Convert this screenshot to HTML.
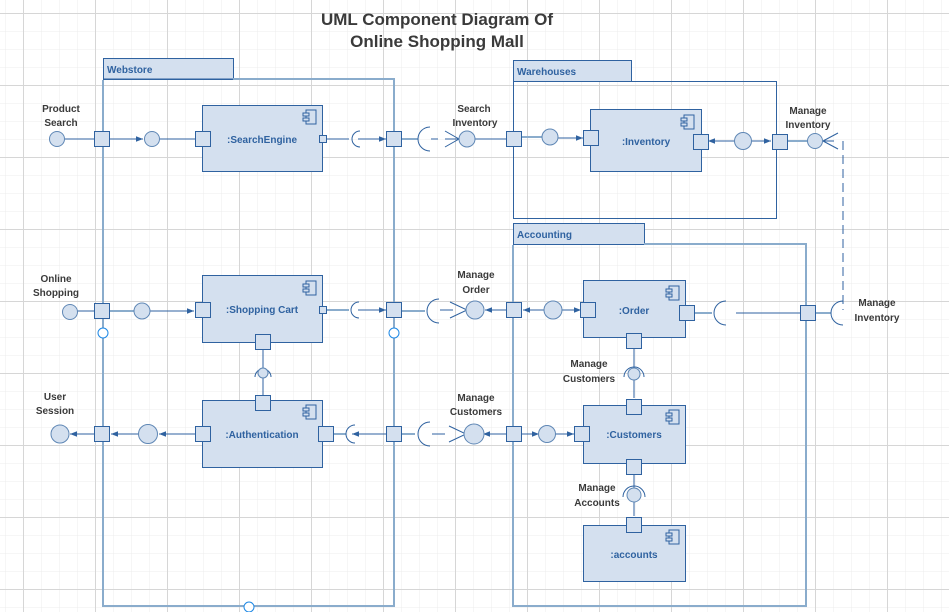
<!DOCTYPE html>
<html><head><meta charset="utf-8"><style>
html,body{margin:0;padding:0;background:#fff;}
svg{display:block;}
text{font-family:"Liberation Sans",sans-serif;font-weight:bold;}
</style></head><body>
<svg width="949" height="612" viewBox="0 0 949 612" xmlns="http://www.w3.org/2000/svg">
<defs>
<pattern id="g1" x="5" y="13" width="18" height="18" patternUnits="userSpaceOnUse"><path d="M0 0H18M0 0V18" stroke="#ececec" stroke-width="1" fill="none"/></pattern>
<pattern id="g2" x="23" y="13" width="72" height="72" patternUnits="userSpaceOnUse"><path d="M0 0.5H72M0.5 0V72" stroke="#d6d6d6" stroke-width="1" fill="none"/></pattern>
<marker id="ar" viewBox="0 0 10 10" refX="10" refY="5" markerWidth="7" markerHeight="7" orient="auto"><path d="M0 1L10 5L0 9z" fill="#2f62a0"/></marker>
<g id="ic"><rect x="3" y="0" width="10" height="14" fill="#d4e0ef" stroke="#2f62a0"/><rect x="0" y="3" width="6" height="3" fill="#d4e0ef" stroke="#2f62a0"/><rect x="0" y="8" width="6" height="3" fill="#d4e0ef" stroke="#2f62a0"/></g>
</defs>
<rect width="949" height="612" fill="url(#g1)"/>
<rect width="949" height="612" fill="url(#g2)"/>

<!-- title -->
<text x="437" y="25" font-size="17" fill="#3a3a3a" text-anchor="middle">UML Component Diagram Of</text>
<text x="437" y="47" font-size="17" fill="#3a3a3a" text-anchor="middle">Online Shopping Mall</text>

<!-- Webstore -->
<rect x="103.5" y="58.5" width="130" height="21" fill="#d4e0ef" stroke="#2f62a0"/>
<text x="107" y="73" font-size="10" fill="#2f62a0">Webstore</text>
<path d="M103 80V606H394V79H233" fill="none" stroke="#8aaccc" stroke-width="2"/>
<path d="M103 79H233" stroke="#2f62a0"/>

<!-- Warehouses -->
<rect x="513.5" y="60.5" width="118" height="21" fill="#d4e0ef" stroke="#2f62a0"/>
<text x="517" y="75" font-size="10" fill="#2f62a0">Warehouses</text>
<path d="M513.5 81.5V218.5H776.5V81.5H631" fill="none" stroke="#2f62a0"/>

<!-- Accounting -->
<rect x="513.5" y="223.5" width="131" height="21" fill="#d4e0ef" stroke="#2f62a0"/>
<text x="517" y="238" font-size="10" fill="#2f62a0">Accounting</text>
<path d="M513 245V606H806V244H644" fill="none" stroke="#8aaccc" stroke-width="2"/>

<g fill="#d4e0ef" stroke="#2f62a0" stroke-width="1">
<!-- component boxes -->
<rect x="202.5" y="105.5" width="120" height="66"/>
<rect x="202.5" y="275.5" width="120" height="67"/>
<rect x="202.5" y="400.5" width="120" height="67"/>
<rect x="590.5" y="109.5" width="111" height="62"/>
<rect x="583.5" y="280.5" width="102" height="57"/>
<rect x="583.5" y="405.5" width="102" height="58"/>
<rect x="583.5" y="525.5" width="102" height="56"/>
</g>
<use href="#ic" x="303" y="110"/>
<use href="#ic" x="303" y="281"/>
<use href="#ic" x="303" y="405"/>
<use href="#ic" x="681" y="115"/>
<use href="#ic" x="666" y="286"/>
<use href="#ic" x="666" y="410"/>
<use href="#ic" x="666" y="530"/>
<g font-size="10" fill="#2f62a0" text-anchor="middle">
<text x="262" y="143">:SearchEngine</text>
<text x="262" y="313">:Shopping Cart</text>
<text x="262" y="438">:Authentication</text>
<text x="646" y="145">:Inventory</text>
<text x="634" y="314">:Order</text>
<text x="634" y="438">:Customers</text>
<text x="634" y="558">:accounts</text>
</g>

<!-- connectors -->
<g stroke="#2f62a0" stroke-width="1" fill="none">
<!-- row 1 -->
<path d="M65 139H94"/>
<path d="M109 139H143" marker-end="url(#ar)"/>
<path d="M160 139H195"/>
<path d="M326 139H349"/>
<path d="M358 139H386" marker-end="url(#ar)"/>
<path d="M360 131A8 8 0 0 0 360 147"/>
<path d="M401 139H418" stroke="#8aaccc" stroke-width="2"/>
<path d="M430 127A12 12 0 0 0 430 151"/>
<path d="M431 139H438"/>
<path d="M445 131L459 139L445 147M459 139H445"/>
<path d="M475 139H506"/>
<path d="M522 137H542" stroke="#8aaccc" stroke-width="2"/>
<path d="M558 138H583" marker-end="url(#ar)"/>
<path d="M735 141H708" marker-end="url(#ar)"/>
<path d="M751 141H771" marker-end="url(#ar)"/>
<path d="M787 141H807" stroke="#8aaccc" stroke-width="2"/>
<path d="M823 141L838 133M823 141L838 149M823 141H834"/>
<path d="M843 141V310" stroke-dasharray="9 5"/>
<!-- row 2 -->
<path d="M77 311H94"/>
<path d="M109 311H134" stroke="#8aaccc" stroke-width="2"/>
<path d="M150 311H194" marker-end="url(#ar)"/>
<path d="M326 310H349" stroke="#8aaccc" stroke-width="2"/>
<path d="M359 302A8 8 0 0 0 359 318"/>
<path d="M358 310H386" marker-end="url(#ar)"/>
<path d="M401 311H425" stroke="#8aaccc" stroke-width="2"/>
<path d="M439 299A12 12 0 0 0 439 323"/>
<path d="M440 310H453"/>
<path d="M450 302L467 310L450 318"/>
<path d="M506 310H485" marker-end="url(#ar)"/>
<path d="M545 310H523" marker-end="url(#ar)"/>
<path d="M561 310H581" marker-end="url(#ar)"/>
<path d="M694 313H712" stroke="#8aaccc" stroke-width="2"/>
<path d="M726 301A12 12 0 0 0 726 325"/>
<path d="M736 313H800"/>
<path d="M814 313H831" stroke="#8aaccc" stroke-width="2"/>
<path d="M843 301A12 12 0 0 0 843 325"/>
<!-- cart/auth -->
<path d="M263 350V395"/>
<path d="M255 377A8 8 0 0 1 271 377"/>
<!-- row 3 -->
<path d="M94 434H70" marker-end="url(#ar)"/>
<path d="M140 434H111" marker-end="url(#ar)"/>
<path d="M195 434H159" marker-end="url(#ar)"/>
<path d="M334 434H346" stroke="#8aaccc" stroke-width="2"/>
<path d="M355 425A9 9 0 0 0 355 443"/>
<path d="M386 434H352" marker-end="url(#ar)"/>
<path d="M401 434H415" stroke="#8aaccc" stroke-width="2"/>
<path d="M430 422A12 12 0 0 0 430 446"/>
<path d="M432 434H445"/>
<path d="M449 426L466 434L449 442"/>
<path d="M506 434H483" marker-end="url(#ar)"/>
<path d="M522 434H539" marker-end="url(#ar)"/>
<path d="M555 434H574" marker-end="url(#ar)"/>
<!-- vertical order/customers/accounts -->
<path d="M634 348V398"/>
<path d="M624 377A10 10 0 0 1 644 377"/>
<path d="M634 472V516"/>
<path d="M623 497A11 11 0 0 1 645 497"/>
</g>

<!-- circles (provided interfaces) -->
<g fill="#d4e0ef" stroke="#5f87b5" stroke-width="1">
<circle cx="57" cy="139" r="7.5"/>
<circle cx="152" cy="139" r="7.5"/>
<circle cx="467" cy="139" r="8"/>
<circle cx="550" cy="137" r="8"/>
<circle cx="743" cy="141" r="8.5"/>
<circle cx="815" cy="141" r="7.5"/>
<circle cx="70" cy="312" r="7.5"/>
<circle cx="142" cy="311" r="8"/>
<circle cx="475" cy="310" r="9"/>
<circle cx="553" cy="310" r="9"/>
<circle cx="263" cy="373" r="5"/>
<circle cx="60" cy="434" r="9"/>
<circle cx="148" cy="434" r="9.5"/>
<circle cx="474" cy="434" r="10"/>
<circle cx="547" cy="434" r="8.5"/>
<circle cx="634" cy="374" r="6"/>
<circle cx="634" cy="495" r="7"/>
</g>

<!-- ports -->
<g fill="#d4e0ef" stroke="#2f62a0" stroke-width="1">
<rect x="94.5" y="131.5" width="15" height="15"/>
<rect x="195.5" y="131.5" width="15" height="15"/>
<rect x="319.5" y="135.5" width="7" height="7"/>
<rect x="386.5" y="131.5" width="15" height="15"/>
<rect x="506.5" y="131.5" width="15" height="15"/>
<rect x="583.5" y="130.5" width="15" height="15"/>
<rect x="693.5" y="134.5" width="15" height="15"/>
<rect x="772.5" y="134.5" width="15" height="15"/>
<rect x="94.5" y="303.5" width="15" height="15"/>
<rect x="195.5" y="302.5" width="15" height="15"/>
<rect x="319.5" y="306.5" width="7" height="7"/>
<rect x="386.5" y="302.5" width="15" height="15"/>
<rect x="506.5" y="302.5" width="15" height="15"/>
<rect x="580.5" y="302.5" width="15" height="15"/>
<rect x="679.5" y="305.5" width="15" height="15"/>
<rect x="800.5" y="305.5" width="15" height="15"/>
<rect x="255.5" y="334.5" width="15" height="15"/>
<rect x="255.5" y="395.5" width="15" height="15"/>
<rect x="94.5" y="426.5" width="15" height="15"/>
<rect x="195.5" y="426.5" width="15" height="15"/>
<rect x="318.5" y="426.5" width="15" height="15"/>
<rect x="386.5" y="426.5" width="15" height="15"/>
<rect x="506.5" y="426.5" width="15" height="15"/>
<rect x="574.5" y="426.5" width="15" height="15"/>
<rect x="626.5" y="333.5" width="15" height="15"/>
<rect x="626.5" y="399.5" width="15" height="15"/>
<rect x="626.5" y="459.5" width="15" height="15"/>
<rect x="626.5" y="517.5" width="15" height="15"/>
</g>

<!-- small open circles -->
<g fill="#fff" stroke="#1e88e5" stroke-width="1">
<circle cx="103" cy="333" r="5"/>
<circle cx="394" cy="333" r="5"/>
<circle cx="249" cy="607" r="5"/>
</g>

<!-- labels -->
<g font-size="10" fill="#3a3a3a" text-anchor="middle">
<text x="61" y="112">Product</text><text x="61" y="126">Search</text>
<text x="474" y="112">Search</text><text x="475" y="126">Inventory</text>
<text x="808" y="114">Manage</text><text x="808" y="128">Inventory</text>
<text x="56" y="282">Online</text><text x="56" y="296">Shopping</text>
<text x="476" y="278">Manage</text><text x="476" y="293">Order</text>
<text x="877" y="306">Manage</text><text x="877" y="321">Inventory</text>
<text x="589" y="367">Manage</text><text x="589" y="382">Customers</text>
<text x="55" y="400">User</text><text x="55" y="414">Session</text>
<text x="476" y="401">Manage</text><text x="476" y="415">Customers</text>
<text x="597" y="491">Manage</text><text x="597" y="506">Accounts</text>
</g>
</svg>
</body></html>
